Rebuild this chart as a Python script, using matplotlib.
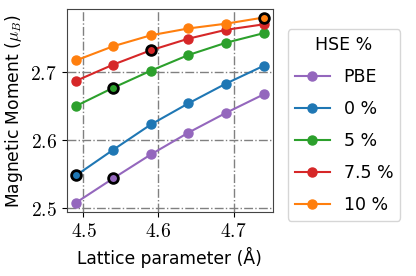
import numpy as np
import matplotlib.pyplot as plt
from matplotlib.ticker import FuncFormatter

plt.rcParams['mathtext.fontset'] = 'cm'
plt.rcParams['font.family'] = ['DejaVu Sans']

# data
lattice = [4.49, 4.54, 4.59, 4.64, 4.69, 4.74]
labels = ['PBE', '0 %', '5 %', '7.5 %', '10 %']
pbe = [2.508, 2.544, 2.579, 2.611, 2.640, 2.667]
hse0 = [2.548, 2.586, 2.623, 2.654, 2.683, 2.709]
hse5 = [2.650, 2.677, 2.702, 2.725, 2.743, 2.757]
hse75 = [2.687, 2.711, 2.732, 2.749, 2.762, 2.770]
hse10 = [2.717, 2.738, 2.754, 2.764, 2.771, 2.780]
series = [pbe, hse0, hse5, hse75, hse10]
colors = ['tab:purple', 'tab:blue', 'tab:green', 'tab:red', 'tab:orange']
# index of the highlighted point of each series
best = [1, 0, 1, 2, 5]

fig = plt.figure(figsize=(4.16, 2.76), dpi=100)
ax = fig.add_axes([0.160, 0.231, 0.496, 0.735])

for ys, lab, c, b in zip(series, labels, colors, best):
    ax.plot(lattice, ys, '-o', color=c, label=lab, markersize=6.5, linewidth=1.5)
    ax.plot(lattice[b], ys[b], 'o', color=c, markersize=7,
            markeredgecolor='black', markeredgewidth=2)

ax.set_xticks([4.5, 4.6, 4.7])
ax.set_yticks([2.5, 2.6, 2.7])
ax.xaxis.set_major_formatter(FuncFormatter(lambda v, p: f'${v:.1f}$'))
ax.yaxis.set_major_formatter(FuncFormatter(lambda v, p: f'${v:.1f}$'))
ax.tick_params(labelsize=14)
ax.set_ylim(2.494, 2.792)
ax.grid(linestyle='-.', color='gray', linewidth=1)
for s in ax.spines.values():
    s.set_color('#444444')

ax.set_xlabel('Lattice parameter (Å)', fontsize=12.3)
ax.set_ylabel(r'Magnetic Moment ($\mu_B$)', fontsize=12.3)
ax.legend(title='HSE %', loc='upper left', bbox_to_anchor=(1.031, 0.945),
          fontsize=12.5, title_fontsize=12.5, labelspacing=0.8)

fig.savefig('out.png', dpi=100)
